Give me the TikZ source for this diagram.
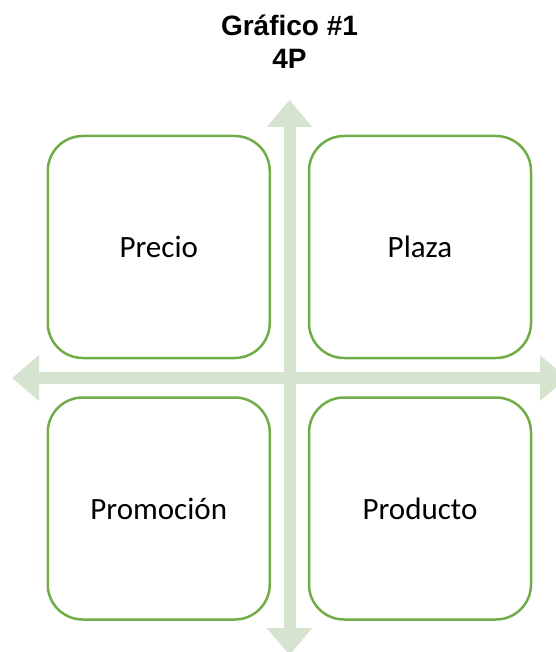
\documentclass[tikz,border=0pt]{standalone}
\usepackage{fontspec}
\usepackage{xcolor}
\usetikzlibrary{arrows.meta, positioning}
\setmainfont{Carlito}
\newfontfamily\titlefont{Liberation Sans}
\definecolor{boxgreen}{RGB}{112,173,71}
\definecolor{crossgreen}{RGB}{214,227,206}
\tikzset{
    pbox/.style={draw=boxgreen, line width=2.5pt, fill=white, rounded corners=35pt,
        minimum width=222pt, minimum height=222pt, font=\fontsize{31}{37}\selectfont},
    bigarrow/.style={draw=crossgreen, line width=12pt,
        {Triangle[width=44pt, length=27pt]}-{Triangle[width=44pt, length=27pt]}}
}

\begin{document}
\begin{tikzpicture}[x=1pt, y=-1pt]
    \useasboundingbox (0, 0) rectangle (555, 652);
    \node[inner sep=0pt, align=center, font=\titlefont\bfseries\fontsize{28}{33}\selectfont] (title) at (289.5, 42) {Gráfico \#1\\4P};
    % the cross
    \coordinate (top) at (289.5, 100);
    \coordinate (bottom) at (289.5, 655);
    \coordinate (left) at (12, 378);
    \coordinate (right) at (567, 378);
    \draw[bigarrow] (left) -- (right);
    \draw[bigarrow] (top) -- (bottom);
    % the four P
    \node[pbox] (precio) at (158.75, 247) {Precio};
    \node[pbox] (plaza) at (420, 247) {Plaza};
    \node[pbox] (promocion) at (158.75, 508.5) {Promoción};
    \node[pbox] (producto) at (420, 508.5) {Producto};
\end{tikzpicture}
\end{document}
